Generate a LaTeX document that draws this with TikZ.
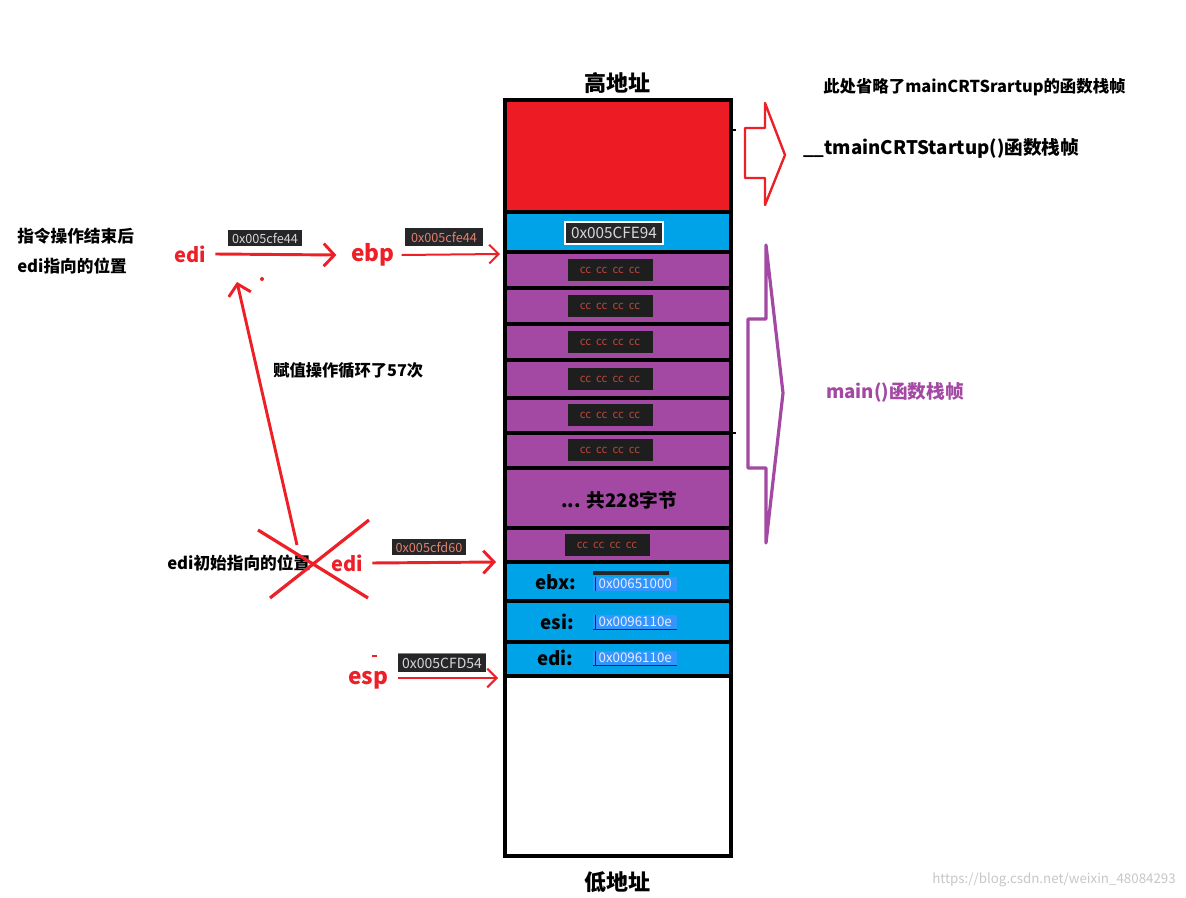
\documentclass[tikz,border=0pt]{standalone}
\usepackage{fontspec}
\setmainfont{Noto Sans CJK SC}
\usetikzlibrary{arrows.meta}
\definecolor{stkred}{RGB}{237,28,36}
\definecolor{stkblue}{RGB}{0,162,232}
\definecolor{stkpurple}{RGB}{163,73,164}
\definecolor{ptred}{RGB}{237,32,40}
\definecolor{hexdark}{RGB}{38,38,40}
\definecolor{hexgray}{RGB}{215,215,215}
\definecolor{hexsalmon}{RGB}{226,128,108}
\definecolor{ccdark}{RGB}{30,30,30}
\definecolor{ccred}{RGB}{185,70,60}
\definecolor{valblue}{RGB}{51,150,255}
\newcommand\fsz[1]{\fontsize{#1}{#1}\selectfont}
\tikzset{
  sep/.style={draw=black, line width=2.8pt},
  blk/.style={font=\bfseries\fsz{12.5}, text=black, inner sep=0pt},
  reglbl/.style={font=\bfseries\fsz{15}, text=ptred, inner sep=1pt},
  rowlbl/.style={font=\bfseries\fsz{13.5}, text=black, inner sep=0pt},
  hexbox/.style={fill=hexdark, font=\fsz{9.5}, inner xsep=3pt, inner ysep=2pt},
  ccbox/.style={fill=ccdark, text=ccred, minimum width=63.75pt, minimum height=16.5pt, inner sep=0pt, font=\fsz{8.5}},
  valbox/.style={fill=valblue, text=white!92!blue, font=\fsz{10}, inner xsep=4pt, inner ysep=1.5pt, anchor=west},
  redarrow/.style={draw=ptred, line width=2.2pt, -{Straight Barb[length=8pt,width=17pt,line width=2.2pt]}},
  thinarrow/.style={draw=ptred, line width=1.5pt, -{Straight Barb[length=7pt,width=14pt,line width=1.5pt]}},
}
\begin{document}
\begin{tikzpicture}[x=0.75pt,y=-0.75pt]
\useasboundingbox[fill=white] (0,0) rectangle (1186,898);
% stack fills
\fill[stkred] (505,100) rectangle (731,212);
\fill[stkblue] (505,212) rectangle (731,252);
\fill[stkpurple] (505,252) rectangle (731,562);
\fill[stkblue] (505,562) rectangle (731,676);
\foreach \y in {212,252,288,324,360,398,433,468,528,562,601,642,676}
  \draw[sep] (505,\y) -- (731,\y);
\draw[sep] (505,100) rectangle (731,856);
\draw[line width=1.5pt] (731,130) -- (736,130);
\draw[line width=1.5pt] (731,433) -- (736,433);
% stack contents
\node[draw=white, line width=1.5pt, fill=hexdark, text=hexgray, font=\fsz{11.5}, minimum width=73pt, minimum height=17pt, inner sep=0pt] (fe94) at (614,233) {0x005CFE94};
\foreach \y/\n in {270/c1,306/c2,342/c3,379/c4,415.5/c5,450.5/c6}
  \node[ccbox] (\n) at (610,\y) {cc\ \ cc\ \ cc\ \ cc};
\node[ccbox] (c7) at (607,545) {cc\ \ cc\ \ cc\ \ cc};
\node[rowlbl, font=\bfseries\fsz{14}] (total) at (619,500) {... 共228字节};
% registers
\node[rowlbl, font=\bfseries\fsz{14}] (ebx) at (556,582) {ebx:};
\node[rowlbl, font=\bfseries\fsz{14}] (esi) at (557,622) {esi:};
\node[rowlbl, font=\bfseries\fsz{14}] (edir) at (555,658) {edi:};
\node[valbox, minimum width=57pt] (vebx) at (593,584) {0x00651000};
\fill[hexdark] (593,571) rectangle (669,575);
\node[valbox, minimum width=62pt] (vesi) at (593,622) {0x0096110e};
\node[valbox, minimum width=62pt] (vedi) at (593,658) {0x0096110e};
\foreach \n in {vebx,vesi,vedi}
  \draw[hexdark, line width=1pt] ([xshift=2pt]\n.north west) -- ([xshift=2pt]\n.south west);
\draw[hexdark, line width=0.8pt] (vesi.south west) -- (vesi.south east);
\draw[hexdark, line width=0.8pt] (vedi.south west) -- (vedi.south east);
% addresses
\node[font=\bfseries\fsz{16.5}, inner sep=0pt] (high) at (617,83) {高地址};
\node[font=\bfseries\fsz{16.5}, inner sep=0pt] (low) at (617,882) {低地址};
% right side arrows
\draw[ptred, line width=1.8pt, line join=round] (745,128) -- (765,128) -- (765,103) -- (785,155) -- (765,205) -- (765,178) -- (745,178) -- cycle;
\draw[stkpurple, line width=2.4pt, line join=round] (748,319) -- (766,319) -- (766,245) -- (783,393) -- (766,543) -- (766,468) -- (748,468) -- cycle;
\node[blk, font=\bfseries\fsz{12.3}, anchor=west] (omit) at (823,87) {此处省略了mainCRTSrartup的函数栈帧};
\node[blk, font=\bfseries\fsz{14}, anchor=west] (tmain) at (803,148) {\_\_tmainCRTStartup()函数栈帧};
\node[blk, font=\bfseries\fsz{14}, text=stkpurple, anchor=west] (mainf) at (826,392) {main()函数栈帧};
% left labels
\node[blk, anchor=west] (after1) at (17,236) {指令操作结束后};
\node[blk, anchor=west] (after2) at (17,266) {edi指向的位置};
\node[reglbl] (editop) at (190,254) {edi};
\node[reglbl, font=\bfseries\fsz{17}] (ebp) at (373,255) {ebp};
\node[hexbox, text=hexgray] (h1) at (265,238) {0x005cfe44};
\node[hexbox, text=hexsalmon, minimum width=59pt, minimum height=13.5pt] (h2) at (444,237) {0x005cfe44};
\coordinate (sebp) at (500,254);
\draw[redarrow] ([xshift=6pt]editop.east) -- ([xshift=-10pt]ebp.west);
\draw[thinarrow] ([xshift=4pt]ebp.east) -- (sebp);
\fill[ptred] (262,279) circle (2);
\node[blk, font=\bfseries\fsz{12.2}, anchor=west] (loop) at (273,370) {赋值操作循环了57次};
% lower left
\node[blk, anchor=west] (init) at (167,563) {edi初始指向的位置};
\coordinate (xstart) at (297,545);
\coordinate (xend) at (237,282);
\draw[redarrow] (xstart) -- (xend);
\draw[ptred, line width=2.4pt] (258,530) -- (368,598);
\draw[ptred, line width=2.4pt] (270,598) -- (369,520);
\node[reglbl] (edibot) at (347,563) {edi};
\node[hexbox, text=hexsalmon] (h3) at (429,547) {0x005cfd60};
\coordinate (sedi) at (496,562);
\draw[redarrow] ([xshift=6pt]edibot.east) -- (sedi);
\node[reglbl, font=\bfseries\fsz{17}] (esp) at (368,680) {esp};
\node[hexbox, text=hexgray, font=\fsz{10.5}, inner ysep=3pt] (h4) at (442,663) {0x005CFD54};
\draw[valblue, line width=0.8pt] (h4.north west) -- (h4.north east);
\fill[ptred] (372,655) rectangle (377,657);
\coordinate (sesp) at (498,678);
\draw[thinarrow] ([xshift=6pt]esp.east |- sesp) -- (sesp);
% watermark
\node[font=\fsz{10}, text=black!22, anchor=east, inner sep=0pt] (wm) at (1176,880) {https://blog.csdn.net/weixin\_48084293};
\end{tikzpicture}
\end{document}
